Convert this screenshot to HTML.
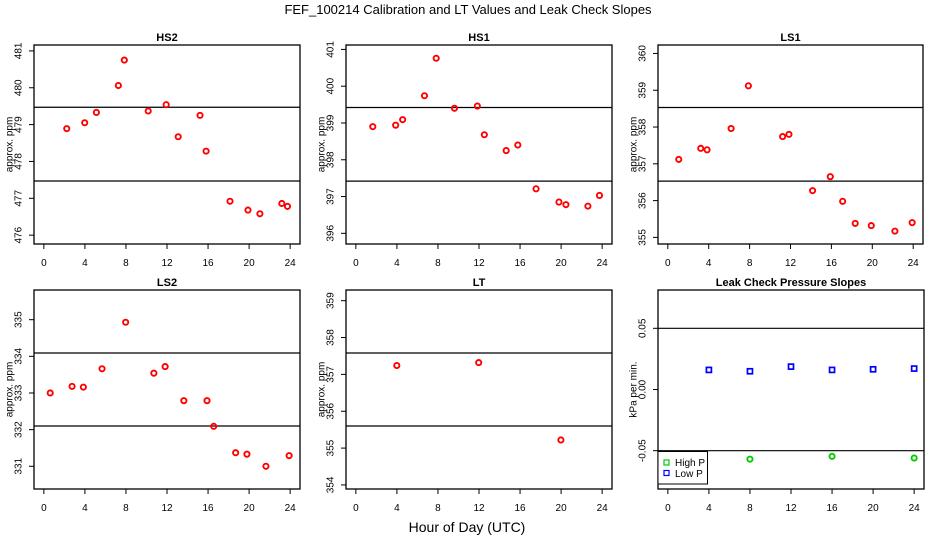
<!DOCTYPE html>
<html><head><meta charset="utf-8">
<style>
html,body{margin:0;padding:0;background:#fff;}
svg{display:block;font-family:"Liberation Sans",sans-serif;}
</style></head>
<body>
<svg id="chart" width="936" height="540" viewBox="0 0 936 540">
<text x="468" y="14" text-anchor="middle" font-size="13">FEF_100214  Calibration and LT Values and Leak Check Slopes</text>
<text x="467" y="532" text-anchor="middle" font-size="14">Hour of Day (UTC)</text>
</svg>
<script>
// ---- data ----
const hs2Hours = [2.23,3.98,5.12,7.26,7.84,10.17,11.92,13.09,15.22,15.81,18.14,19.89,21.05,23.19,23.74];
const hs2Values = [478.89,479.05,479.33,480.06,480.75,479.37,479.54,478.67,479.25,478.28,476.92,476.68,476.58,476.86,476.78];
const hs1Hours = [1.65,3.88,4.56,6.69,7.83,9.61,11.84,12.52,14.65,15.78,17.56,19.79,20.47,22.61,23.74];
const hs1Values = [398.90,398.94,399.09,399.74,400.76,399.40,399.46,398.68,398.25,398.40,397.21,396.85,396.78,396.74,397.03];
const ls1Hours = [1.07,3.22,3.84,6.19,7.88,11.23,11.85,14.16,15.89,17.10,18.33,19.90,22.21,23.90];
const ls1Values = [357.12,357.42,357.38,357.96,359.12,357.74,357.80,356.27,356.65,355.98,355.38,355.32,355.17,355.40];
const ls2Hours = [0.62,2.75,3.85,5.67,7.97,10.72,11.82,13.64,15.90,16.55,18.69,19.79,21.64,23.90];
const ls2Values = [333.00,333.18,333.16,333.66,334.93,333.54,333.72,332.79,332.79,332.09,331.37,331.33,331.00,331.29];
const ltHours = [3.99,11.97,19.98];
const ltValues = [357.24,357.32,355.22];
const leakHours = [4,8,12,16,20,24];
const lowPValues = [0.0160,0.0149,0.0187,0.0160,0.0165,0.0171];
const highPHours = [8,16,24];
const highPValues = [-0.0569,-0.0546,-0.0560];
const hs2Limits = [479.47,477.47];
const hs1Limits = [399.42,397.42];
const ls1Limits = [358.53,356.53];
const ls2Limits = [334.09,332.10];
const ltLimits = [357.58,355.60];
const leakLimits = [0.05,-0.05];
const hs2Ticks = [476,477,478,479,480,481];
const hs1Ticks = [396,397,398,399,400,401];
const ls1Ticks = [355,356,357,358,359,360];
const ls2Ticks = [331,332,333,334,335];
const ltTicks = [354,355,356,357,358,359];
const leakTicks = [-0.05,0.00,0.05];
const leakTickLabels = ["-0.05","0.00","0.05"];
const xTicks = [0,4,8,12,16,20,24];

const NS = "http://www.w3.org/2000/svg";
const svg = document.getElementById('chart');
function mk(tag, attrs, parent){
  const e = document.createElementNS(NS, tag);
  for (const k in attrs) e.setAttribute(k, attrs[k]);
  (parent||svg).appendChild(e);
  return e;
}

function panel(cfg){
  const g = mk('g', {});
  
  
  const L=cfg.box[0], R=cfg.box[1], T=cfg.box[2], B=cfg.box[3];
  const xs = h => L + (h - (-0.96)) / 25.92 * (R - L);
  const ys = v => T + (cfg.ylim[1] - v) / (cfg.ylim[1] - cfg.ylim[0]) * (B - T);
  const t = mk('text', {x:(L+R)/2, y:T-4, 'text-anchor':'middle', 'font-size':11, 'font-weight':'bold'}, g);
  t.textContent = cfg.title;
  
  
  const bx = mk('rect', {x:L, y:T, width:R-L, height:B-T, fill:'none', stroke:'#000', 'stroke-width':1.3}, g);
  
  
  const xa = mk('g', {}, g);
  
  
  mk('line', {x1:xs(xTicks[0]), x2:xs(xTicks[xTicks.length-1]), y1:B, y2:B, stroke:'#000', 'stroke-width':1}, xa);
  xTicks.forEach(h=>{
    mk('line', {x1:xs(h), x2:xs(h), y1:B, y2:B+5, stroke:'#000', 'stroke-width':1}, xa);
    const tl = mk('text', {x:xs(h), y:B+22, 'text-anchor':'middle', 'font-size':10}, xa);
    tl.textContent = h;
    
    
  });
  const ya = mk('g', {}, g);
  
  
  mk('line', {x1:L, x2:L, y1:ys(cfg.ticks[0]), y2:ys(cfg.ticks[cfg.ticks.length-1]), stroke:'#000', 'stroke-width':1}, ya);
  cfg.ticks.forEach((v,i)=>{
    mk('line', {x1:L-5, x2:L, y1:ys(v), y2:ys(v), stroke:'#000', 'stroke-width':1}, ya);
    const lx = L-16, ly = ys(v);
    const tl = mk('text', {x:lx, y:ly, 'text-anchor':'middle', 'font-size':10, transform:'rotate(-90 '+lx+' '+ly+')', dy:'0.35em'}, ya);
    tl.textContent = cfg.tickLabels ? cfg.tickLabels[i] : v;
    
    
  });
  const yt = mk('text', {x:L-24, y:(T+B)/2, 'text-anchor':'middle', 'font-size':10, transform:'rotate(-90 '+(L-24)+' '+((T+B)/2)+')', dy:'0.25em'}, g);
  yt.textContent = cfg.ytitle;
  
  
  cfg.limits.forEach(v=>{
    const ln = mk('line', {x1:L, x2:R, y1:ys(v), y2:ys(v), stroke:'#000', 'stroke-width':1.2}, g);
    
    
  });
  cfg.series.forEach(s=>{
    s.hours.forEach((h,i)=>{
      let m;
      if (s.shape === 'square') {
        m = mk('rect', {x:xs(h)-2.5, y:ys(s.values[i])-2.5, width:5, height:5, fill:'none', stroke:s.color, 'stroke-width':1.7}, g);
      } else {
        m = mk('circle', {cx:xs(h), cy:ys(s.values[i]), r:2.6, fill:'none', stroke:s.color, 'stroke-width':1.9}, g);
      }
      
      
    });
  });
  return {g, L, R, T, B};
}

panel({name:'hs2', title:'HS2', box:[34,300,45,244], ylim:[475.76,481.16], ticks:hs2Ticks, limits:hs2Limits, ytitle:'approx. ppm',
  series:[{name:'hs2', hours:hs2Hours, values:hs2Values, color:'#ff0000'}]});
panel({name:'hs1', title:'HS1', box:[346,612,45,244], ylim:[395.71,401.12], ticks:hs1Ticks, limits:hs1Limits, ytitle:'approx. ppm',
  series:[{name:'hs1', hours:hs1Hours, values:hs1Values, color:'#ff0000'}]});
panel({name:'ls1', title:'LS1', box:[658,923,45,244], ylim:[354.82,360.23], ticks:ls1Ticks, limits:ls1Limits, ytitle:'approx. ppm',
  series:[{name:'ls1', hours:ls1Hours, values:ls1Values, color:'#ff0000'}]});
panel({name:'ls2', title:'LS2', box:[34,300,290,489], ylim:[330.38,335.81], ticks:ls2Ticks, limits:ls2Limits, ytitle:'approx. ppm',
  series:[{name:'ls2', hours:ls2Hours, values:ls2Values, color:'#ff0000'}]});
panel({name:'lt', title:'LT', box:[346,612,290,489], ylim:[353.89,359.29], ticks:ltTicks, limits:ltLimits, ytitle:'approx. ppm',
  series:[{name:'lt', hours:ltHours, values:ltValues, color:'#ff0000'}]});
const lk = panel({name:'leak', title:'Leak Check Pressure Slopes', box:[658,924,290,489], ylim:[-0.0813,0.0813], ticks:leakTicks, tickLabels:leakTickLabels, limits:leakLimits, ytitle:'kPa per min.',
  series:[{name:'low-p', hours:leakHours, values:lowPValues, color:'#0000ff', shape:'square'},
          {name:'high-p', hours:highPHours, values:highPValues, color:'#00cc00', shape:'circle'}]});

const lg = mk('g', {}, lk.g);


mk('rect', {x:658, y:451.5, width:49.5, height:32.5, fill:'#fff', stroke:'#000', 'stroke-width':1}, lg);
const e1 = mk('g', {}, lg);


mk('rect', {x:664, y:460, width:5, height:5, fill:'none', stroke:'#00cc00', 'stroke-width':1.2}, e1);
const t1 = mk('text', {x:675, y:466, 'font-size':10}, e1); t1.textContent = 'High P';
const e2 = mk('g', {}, lg);


mk('rect', {x:664, y:470.5, width:5, height:5, fill:'none', stroke:'#0000ff', 'stroke-width':1.2}, e2);
const t2 = mk('text', {x:675, y:477, 'font-size':10}, e2); t2.textContent = 'Low P';
</script>
</body></html>
